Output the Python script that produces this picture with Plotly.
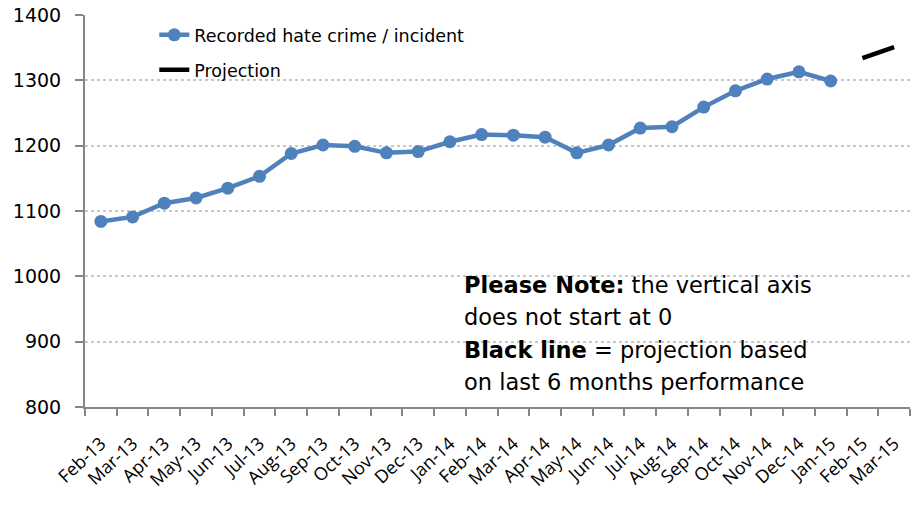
import plotly.graph_objects as go

months = ["Feb-13","Mar-13","Apr-13","May-13","Jun-13","Jul-13","Aug-13","Sep-13","Oct-13","Nov-13",
          "Dec-13","Jan-14","Feb-14","Mar-14","Apr-14","May-14","Jun-14","Jul-14","Aug-14","Sep-14",
          "Oct-14","Nov-14","Dec-14","Jan-15","Feb-15","Mar-15"]
recorded_months = months[:24]
recorded = [1084, 1091, 1112, 1120, 1135, 1153, 1188, 1201, 1199, 1189,
            1191, 1206, 1217, 1216, 1213, 1189, 1201, 1227, 1229, 1259,
            1284, 1302, 1313, 1299]
projection_months = ["Feb-15", "Mar-15"]
projection = [1334, 1351]
y_ticks = [800, 900, 1000, 1100, 1200, 1300, 1400]
note_lines = ["<b>Please Note:</b> the vertical axis",
              "does not start at 0",
              "<b>Black line</b> = projection based",
              "on last 6 months performance"]

FONT = "DejaVu Sans, Liberation Sans, sans-serif"
TICKFONT = "Open Sans, DejaVu Sans, sans-serif"
BLUE = "#4F81BD"
AXIS = "#868686"

fig = go.Figure()
fig.add_trace(go.Scatter(
    x=recorded_months, y=recorded, mode="lines+markers",
    name="Recorded hate crime / incident", showlegend=True,
    line=dict(color=BLUE, width=4.5), marker=dict(color=BLUE, size=13),
    legend="legend"))
fig.add_trace(go.Scatter(
    x=projection_months, y=projection, mode="lines",
    name="Projection", showlegend=True, line=dict(color="black", width=4.5),
    legend="legend2"))

fig.update_layout(
    width=914, height=505,
    margin=dict(l=85, r=4, t=15, b=98),
    paper_bgcolor="white", plot_bgcolor="white",
    font=dict(family=FONT, color="black"),
    showlegend=True,
    legend=dict(x=0.084, y=0.995, xanchor="left", yanchor="top",
                font=dict(size=17.5, family=FONT), bgcolor="rgba(0,0,0,0)"),
    legend2=dict(x=0.084, y=0.906, xanchor="left", yanchor="top",
                 font=dict(size=17.5, family=FONT), bgcolor="rgba(0,0,0,0)"),
)
fig.update_xaxes(
    type="category", categoryorder="array", categoryarray=months,
    range=[-0.5, len(months) - 0.5], automargin=False,
    tickangle=-43, tickson="boundaries", ticks="outside", ticklen=7,
    tickcolor=AXIS, tickwidth=2, showline=True, linecolor=AXIS, linewidth=2,
    showgrid=False, tickfont=dict(size=18, family=TICKFONT), ticklabelstandoff=17)
fig.update_yaxes(
    range=[800, 1400], tickvals=y_ticks, automargin=False,
    ticks="outside", ticklen=8, tickcolor=AXIS, tickwidth=2,
    showline=True, linecolor=AXIS, linewidth=2,
    showgrid=True, gridcolor="#C8C8C8", griddash="dot", gridwidth=1.5,
    zeroline=False, tickfont=dict(size=19, family=FONT), ticklabelstandoff=10)

line_centers_px = [285, 317, 350, 382]
for txt, yc in zip(note_lines, line_centers_px):
    fig.add_annotation(
        xref="paper", yref="paper", x=(462 - 85) / 825, y=(407 - yc) / 392,
        xanchor="left", yanchor="middle", align="left", showarrow=False,
        font=dict(size=22.5, family=FONT, color="black"), text=txt)

fig.write_html("out.html", config={"displayModeBar": False},
               post_script="document.body.style.margin='0';document.body.style.padding='0';")
